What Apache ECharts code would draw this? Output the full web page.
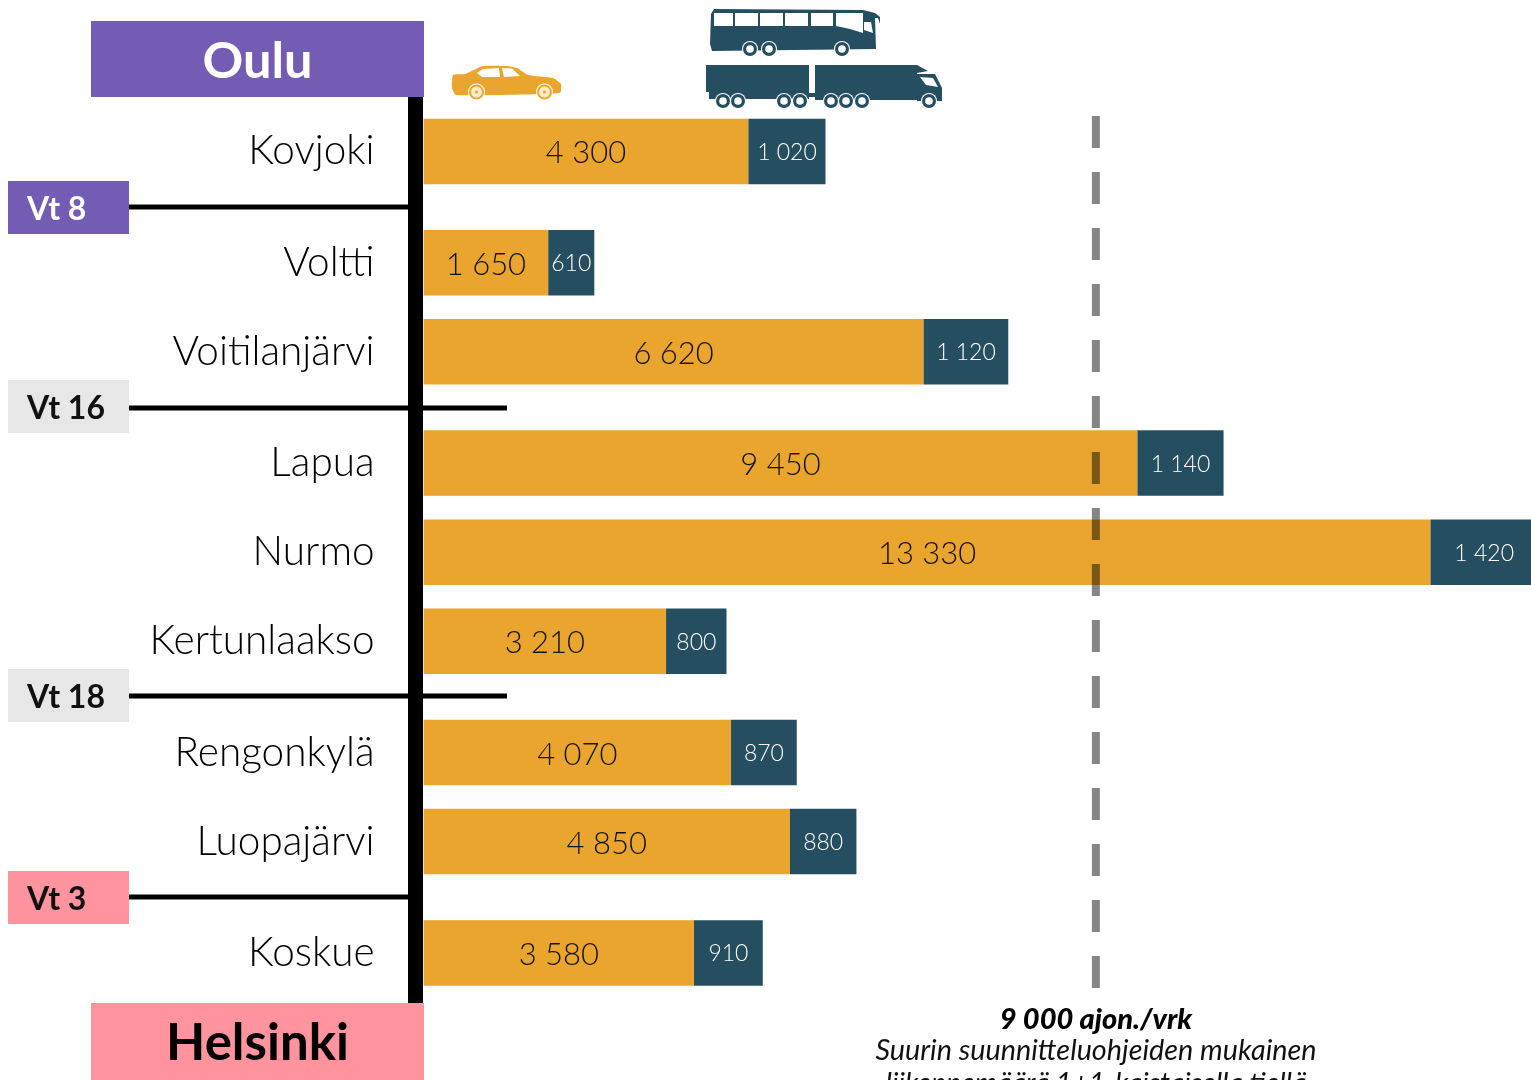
<!DOCTYPE html>
<html><head><meta charset="utf-8">
<style>html,body{margin:0;padding:0;background:#fff;overflow:hidden}#c{width:1531px;height:1080px}</style>
<script src="https://cdn.jsdelivr.net/npm/echarts@6/dist/echarts.min.js"></script>
</head><body><div id="c"></div>
<script>
const stations = ['Kovjoki','Voltti','Voitilanjärvi','Lapua','Nurmo','Kertunlaakso','Rengonkylä','Luopajärvi','Koskue'];
const cars = [4300,1650,6620,9450,13330,3210,4070,4850,3580];
const heavy = [1020,610,1120,1140,1420,800,870,880,910];
const rowSteps = [0,5,4,5,4,4,5,4,5];
const designLimit = 8900;
const limitTitle = '9 000 ajon./vrk';
const limitText = ['Suurin suunnitteluohjeiden mukainen','liikennemäärä 1+1-kaistaisella tiellä'];
const endTop = 'Oulu', endBottom = 'Helsinki';
const junctions = ['Vt 8','Vt 16','Vt 18','Vt 3'];

const FONT = 'Lato, "Open Sans", sans-serif';
const ORANGE = '#EAA52E', NAVY = '#254E60', PURPLE = '#745BB3', PINK = '#FF949E', GREY = '#E7E7E7';

const cats = [], carRow = [], heavyRow = [];
stations.forEach((s,i)=>{
  for(let k=1;k<rowSteps[i];k++){cats.push(' '.repeat(cats.length+1));carRow.push(null);heavyRow.push(null);}
  cats.push(s);carRow.push(cars[i]);heavyRow.push(heavy[i]);
});
const fmt = p => String(p.value).replace(/\B(?=(\d{3})+$)/g,' ');

const rect=(x,y,w,h,fill,z)=>({type:'rect',shape:{x,y,width:w,height:h},style:{fill},z:z||5,silent:true});
const txt=(x,y,text,size,fill,weight,align,style)=>({type:'text',x,y,z:20,silent:true,style:{text,fill,font:(style||'normal')+' '+(weight||400)+' '+size+'px '+FONT,textAlign:align||'left',textVerticalAlign:'middle'}});
const poly=(pts,fill,smooth)=>({type:'polygon',shape:{points:pts,smooth:smooth||0},style:{fill},z:6,silent:true});
const wheel=(cx,cy,col)=>[
  {type:'circle',shape:{cx,cy,r:8},style:{fill:'#fff'},z:7,silent:true},
  {type:'circle',shape:{cx,cy,r:7},style:{fill:col},z:7,silent:true},
  {type:'circle',shape:{cx,cy,r:3.8},style:{fill:'#fff'},z:8,silent:true}];
const carWheel=(cx,cy)=>[
  {type:'circle',shape:{cx,cy,r:8.5},style:{fill:'#fff'},z:7,silent:true},
  {type:'circle',shape:{cx,cy,r:7.5},style:{fill:ORANGE},z:7,silent:true},
  {type:'circle',shape:{cx,cy,r:5.5},style:{fill:'#FCEBCB'},z:8,silent:true},
  {type:'circle',shape:{cx,cy,r:1.5},style:{fill:ORANGE},z:9,silent:true}];

const graphics = [
  rect(91,21,333,76,PURPLE), rect(91,1003,333,77,PINK),
  rect(408,97,15,906,'#000'),
  rect(129,204.5,279,5,'#000'), rect(129,405.5,378,5,'#000'),
  rect(129,693.5,378,5,'#000'), rect(129,894.5,279,5,'#000'),
  rect(8,181,121,53,PURPLE), rect(8,380,121,53,GREY), rect(8,669,121,53,GREY), rect(8,871,121,53,PINK),
  txt(257.5,62,endTop,50.5,'#fff',700,'center'),
  txt(257.5,1044,endBottom,51,'#000',700,'center'),
  txt(27,210,junctions[0],32,'#fff',700), txt(27,409,junctions[1],32,'#111',700),
  txt(27,698,junctions[2],32,'#111',700), txt(27,900,junctions[3],32,'#111',700),
  txt(1096,1020,limitTitle,29,'#000',900,'center','italic'),
  txt(1096,1051,limitText[0],28.8,'#111',400,'center','italic'),
  txt(1096,1084,limitText[1],28.3,'#111',400,'center','italic'),
  // car icon
  poly([[453,75],[465,74],[483,66],[507,66],[517,68],[528,75],[553,78],[561,84],[560,93],[456,95],[452,88]],ORANGE,0.15),
  poly([[477,73],[483,69],[499,68],[500,77],[482,77]],'#fff'),
  poly([[502,68],[512,68.5],[520,76],[504,77]],'#fff'),
  ...carWheel(476.5,92), ...carWheel(544.5,92),
  // bus icon
  poly([[714,9],[863,10],[875,13],[880,17],[880,24],[878,18],[875,18],[876,49],[712,51],[710,44],[711,14]],NAVY),
  ...[[714,733],[735,758],[760,783],[785,808],[811,833]].map(w=>rect(w[0],13,w[1]-w[0],13,'#fff',7)),
  poly([[836,13],[863,13],[863,33],[850,29],[836,26]],'#fff'),
  poly([[864,22],[871,22],[873,33],[864,30]],'#fff'),
  ...wheel(750,49,NAVY), ...wheel(769,49,NAVY), ...wheel(842,49,NAVY),
  // truck and trailer icon
  rect(706,65,103,27,NAVY,6), rect(709,92,100,7,NAVY,6), rect(809,93,9,4,NAVY,6),
  rect(815,65,102,35,NAVY,6),
  poly([[917,65],[928,71],[917,73]],NAVY),
  poly([[917,74],[935,74],[942,88],[942,101],[917,101]],NAVY),
  poly([[920,77],[933,78],[938,87],[926,85]],'#fff'),
  ...wheel(723,101,NAVY), ...wheel(738,101,NAVY), ...wheel(784,101,NAVY), ...wheel(800,101,NAVY),
  ...wheel(831,101,NAVY), ...wheel(846,101,NAVY), ...wheel(862,101,NAVY), ...wheel(929,101,NAVY)
];

const u = 801.5/36;
const chart = echarts.init(document.getElementById('c'),null,{renderer:'canvas'});
chart.setOption({
  animation:false,
  backgroundColor:'#fff',
  grid:[
    {left:423.6,width:1107.4,top:151.4-u/2,height:u*cats.length},
    {left:423.6,width:1107.4,top:116,height:872}
  ],
  xAxis:[
    {type:'value',min:0,max:14660,show:false,gridIndex:0},
    {type:'value',min:0,max:14660,show:false,gridIndex:1}
  ],
  yAxis:[
    {type:'category',inverse:true,data:cats,gridIndex:0,
     axisLine:{show:false},axisTick:{show:false},splitLine:{show:false},
     axisLabel:{interval:0,margin:49,fontFamily:FONT,fontSize:40.5,fontWeight:300,color:'#000',align:'right',
       padding:[2,0,0,0],formatter:v=>v.trim()}},
    {type:'value',min:0,max:1,show:false,gridIndex:1}
  ],
  series:[
    {name:'Henkilöautot',type:'bar',stack:'t',clip:false,barWidth:65.5,xAxisIndex:0,yAxisIndex:0,data:carRow,
     itemStyle:{color:ORANGE},
     label:{show:true,position:'inside',offset:[0,2],formatter:fmt,fontFamily:FONT,fontSize:31,fontWeight:300,color:'#111'}},
    {name:'Raskaat',type:'bar',stack:'t',clip:false,barWidth:65.5,xAxisIndex:0,yAxisIndex:0,data:heavyRow,
     itemStyle:{color:NAVY},
     label:{show:true,position:'inside',offset:[0,1],formatter:fmt,fontFamily:FONT,fontSize:23,fontWeight:300,color:'#fff'}},
    {name:'Raja',type:'line',xAxisIndex:1,yAxisIndex:1,showSymbol:false,symbol:'none',z:10,silent:true,
     data:[[designLimit,1],[designLimit,0]],
     lineStyle:{color:'rgba(0,0,0,0.48)',width:8,type:[32,24],cap:'butt'}}
  ],
  graphic:graphics
});
</script></body></html>
